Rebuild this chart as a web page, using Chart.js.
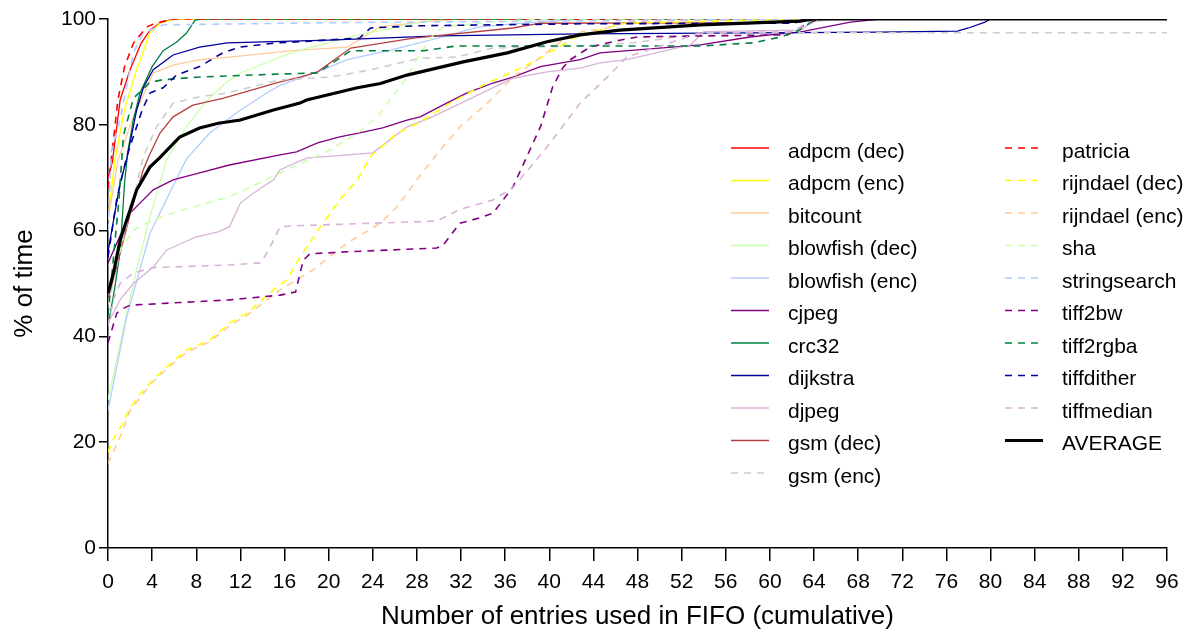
<!DOCTYPE html>
<html>
<head>
<meta charset="utf-8">
<script src="https://cdn.jsdelivr.net/npm/chart.js@4"></script>
<style>
  html, body { margin: 0; padding: 0; background: #fff; }
  #wrap { width: 1195px; height: 631px; }
</style>
</head>
<body>
<div id="wrap"><canvas id="myChart" width="1195" height="631"></canvas></div>
<script>
// x = entries used, y = % of time
let adpcmDec = [[0,70],[0.4,73],[1.1,84.7],[2,90.4],[3,95.4],[3.8,97.9],[4.9,99.5],[6,100],[96,100]];
let adpcmEnc = [[0,62],[0.6,73],[1.5,83],[2.6,90.4],[3.8,97.4],[4.7,99.2],[6,100],[96,100]];
let bitcount = [[0,62],[0.9,73.3],[2.3,81.5],[3.5,87],[4.1,89.8],[5.9,91.3],[8.3,92.3],[11,92.8],[15.6,93.8],[17.4,94.1],[21.7,94.7],[24.7,98.5],[29.2,99.6],[32,100],[96,100]];
let blowfishDec = [[0,28],[2.3,50],[3.8,62.6],[5.3,73.3],[7.1,79.6],[9,84.7],[11,88.5],[12,89.8],[15.6,92.8],[17.4,94.1],[22.8,97],[29.2,99.8],[31,100],[96,100]];
let blowfishEnc = [[0,26],[1.7,43.7],[3.8,59.5],[7.1,73.5],[9.2,78.4],[12,82.8],[14.4,86],[15.6,87.5],[17.4,88.8],[19,90],[21.7,92.3],[25.6,94.1],[29.2,96],[33.7,98.5],[39.8,99.6],[44,100],[96,100]];
let cjpeg = [[0,53.9],[2,63.3],[4.1,67.7],[5.9,69.6],[8.3,70.9],[11,72.4],[15.6,74.3],[17.1,74.9],[19,76.6],[21,77.7],[22.6,78.4],[24.9,79.4],[27.1,80.9],[28.3,81.5],[30.7,84.1],[32.5,86],[34.9,87.9],[36.7,89],[39.2,91],[42.8,92.3],[44.6,93.6],[53.7,95.1],[58.2,96.6],[60.9,97.2],[62.7,97.5],[67.3,99.4],[70,100],[96,100]];
let crc32 = [[0,42],[0.6,49],[1.1,56],[1.5,69],[1.8,75],[2.3,81],[2.9,86],[4,91],[5,94],[6.2,95.6],[7.1,97.3],[7.9,99.8],[8.5,100],[96,100]];
let dijkstra = [[0,56],[1.1,69],[1.7,73.5],[2.6,82.8],[3.2,87],[4.1,90.4],[5.9,93.2],[8.3,94.7],[10.8,95.5],[20,96],[30,96.8],[43,97.2],[70,97.5],[77,97.7],[78,98.3],[79.5,99.4],[80,100],[96,100]];
let djpeg = [[0,42.5],[1.1,46.9],[2.3,50],[4.1,53.1],[5.3,56.3],[6.8,57.7],[8,58.8],[9.9,59.7],[11,60.7],[12,65.2],[13.2,67.1],[15,69.6],[15.6,71.5],[18,73.7],[24,74.7],[27.1,79.6],[29.2,81.3],[31.3,83.4],[36.7,88.8],[39.8,90],[42.8,90.7],[44.6,91.7],[47,92.3],[48,92.8],[52.8,95.1],[54,97.6],[62.7,97.9],[64,99.5],[66,100],[96,100]];
let gsmDec = [[0,47],[1,55],[2,63],[3.2,71.5],[3.8,74.5],[4.7,78.4],[5.9,81.5],[7.7,83.7],[10.4,85],[15.6,88.1],[17.4,89],[19,90],[22,94.5],[27.7,96.4],[36.7,98.3],[39.2,99.2],[60,99.3],[64,100],[96,100]];
let gsmEnc = [[0,46],[1.1,56.3],[2.3,65.8],[3.2,74],[4.4,79.6],[5.9,84.1],[8.3,85.3],[10.8,86],[15.6,88.5],[20.1,89],[23.8,90.4],[28.3,92.6],[31.6,92.8],[34.9,94.5],[42.8,94.9],[47.6,95.5],[53,97],[56,97.4],[96,97.4]];
let patricia = [[0,68],[0.9,84.7],[1.5,91],[2.3,95.4],[3.5,98.5],[4.3,99.2],[6,100],[96,100]];
let rijndaelDec = [[0,18.1],[0.6,21],[1.4,23.8],[2,26.5],[2.9,29],[4.1,31.8],[5.3,34.2],[7.1,37.4],[9.2,39.3],[11,42.5],[12.6,44.4],[15,48.8],[16.2,50.7],[17.4,55],[18,56.9],[19.5,61.4],[21,65.8],[22.6,69.6],[23.8,74],[26.2,78.4],[28.3,80.5],[31,84.1],[34.4,87.9],[36.7,90],[39.2,92.6],[42.2,96.4],[45.5,98.5],[46.9,99.2],[55,99.6],[63,100],[96,100]];
let rijndaelEnc = [[0,16],[1.1,21],[2,26],[3.2,29.2],[4.1,31.5],[5.3,33.8],[7.1,37],[9.2,39],[11,42],[12.6,44],[15.6,48.8],[18.6,52.6],[21.7,57.7],[24.7,61.4],[26.2,64.5],[28,69.6],[30.1,75.2],[31.9,79.6],[34.4,84.1],[36.7,89],[38.9,92.3],[41.6,96.6],[43.4,97.9],[44.6,97.9],[47,99.5],[63,100],[96,100]];
let sha = [[0,48.8],[1.1,56.3],[2.3,60.1],[4.1,62],[6.8,63.9],[11,66.4],[12.9,68.2],[15.6,70.9],[20.1,75.2],[22.6,78.4],[24.4,81.5],[25.8,85.3],[27.1,89],[28.3,93.6],[29.5,97],[30.4,98.5],[35,99.5],[40,100],[96,100]];
let stringsearch = [[0,60],[0.3,75],[1.1,81],[2.3,93.6],[3.2,97.3],[5,98.9],[20,99.3],[40,99.6],[64,100],[96,100]];
let tiff2bw = [[0,38.8],[0.8,44.4],[1.3,45.2],[2,45.9],[11,46.9],[15.6,47.8],[17,48.4],[17.7,54.4],[18.3,55.6],[21.7,56],[29.8,56.7],[30.4,57.3],[31.9,61.4],[33.7,62.4],[34.9,63.3],[36.7,68.2],[39.2,79.6],[40.3,87.1],[41.2,90.7],[41.9,92.3],[43.7,94.7],[46.4,96],[48,96.6],[53.7,96.8],[61.6,97],[63.4,99.2],[64.5,100],[96,100]];
let tiff2rgba = [[0,44],[0.5,55],[1,66],[1.4,78],[2.3,85],[3.8,88],[4.9,88.5],[8,89],[15.6,89.6],[19,89.8],[22,94],[28.6,94],[31.6,94.9],[53.7,94.9],[58.5,95.5],[61,96.6],[62.7,97.9],[64,99.8],[65,100],[96,100]];
let tiffdither = [[0,55],[0.8,66],[1.7,74],[3.1,82.8],[3.8,86],[5,87],[6.2,89.4],[8.3,91],[10.4,93.6],[12,94.7],[15.3,95.5],[17.4,95.7],[22.8,96.4],[23.8,98.3],[27.7,98.7],[42.8,99.1],[62,99.2],[64,100],[96,100]];
let tiffmedian = [[0,42],[0.5,47],[1.1,50],[2.3,52],[4.1,53],[11,53.5],[13.8,53.9],[14.4,55.7],[15.6,60.7],[16.8,60.9],[29.8,61.8],[31.9,64],[34.9,65.8],[36.7,68.1],[39.8,75.8],[42.8,84.1],[45.5,89.5],[47,92.8],[53.7,97.4],[62.1,97.6],[64,100],[96,100]];
let average = [[0,48.2],[0.5,52],[1.1,58.2],[1.7,62],[2.6,67.7],[3.8,72],[4.7,73.8],[6.5,77.7],[8.3,79.4],[10,80.3],[12,80.9],[15,82.8],[17.4,84.1],[18,84.7],[22.6,87],[24.7,87.8],[27.1,89.4],[32.2,91.9],[36.2,93.6],[39.8,95.7],[42.8,97],[46.4,97.9],[53.7,98.9],[62.7,99.6],[64,100],[96,100]];

let names = ['adpcm (dec)', 'adpcm (enc)', 'bitcount', 'blowfish (dec)', 'blowfish (enc)', 'cjpeg', 'crc32', 'dijkstra', 'djpeg', 'gsm (dec)', 'gsm (enc)',
             'patricia', 'rijndael (dec)', 'rijndael (enc)', 'sha', 'stringsearch', 'tiff2bw', 'tiff2rgba', 'tiffdither', 'tiffmedian', 'AVERAGE'];
let series = [adpcmDec, adpcmEnc, bitcount, blowfishDec, blowfishEnc, cjpeg, crc32, dijkstra, djpeg, gsmDec, gsmEnc,
              patricia, rijndaelDec, rijndaelEnc, sha, stringsearch, tiff2bw, tiff2rgba, tiffdither, tiffmedian, average];
let colors = ['#FF0000', '#FFFF00', '#FFCC99', '#CCFFAA', '#B3CCFF', '#800080', '#008040', '#000099', '#D9B3D9', '#B84040', '#CCCCCC',
              '#FF0000', '#FFFF00', '#FFCC99', '#CCFFAA', '#B3CCFF', '#800080', '#008040', '#000099', '#D9B3D9', '#000000'];
let dashed = [false, false, false, false, false, false, false, false, false, false, true,
              true, true, true, true, true, true, true, true, true, false];

let font = "'Liberation Sans', Arial, sans-serif";

let datasets = series.map(function (s, i) {
	let avg = names[i] === 'AVERAGE';
	return {
		label: names[i],
		data: s.map(function (p) { return {x: p[0], y: p[1]}; }),
		borderColor: colors[i],
		backgroundColor: colors[i],
		borderWidth: avg ? 3.2 : (dashed[i] ? 1.6 : 1.3),
		borderDash: dashed[i] ? [7, 6] : [],
		pointRadius: 0,
		tension: 0,
		fill: false,
		order: series.length - i
	};
});

// two-column legend inside the plot
let legendBox = {
	id: 'legendBox',
	afterDraw: function (chart) {
		let ctx = chart.ctx;
		let perCol = 11;
		ctx.save();
		ctx.font = '21px ' + font;
		ctx.textBaseline = 'middle';
		ctx.fillStyle = '#000';
		chart.data.datasets.forEach(function (ds, i) {
			let col = i < perCol ? 0 : 1;
			let row = col === 0 ? i : i - perCol;
			let x0 = col === 0 ? 731 : 1005;
			let y = 148 + row * 32.5;
			ctx.beginPath();
			ctx.strokeStyle = ds.borderColor;
			ctx.lineWidth = ds.borderWidth;
			ctx.setLineDash(ds.borderDash);
			ctx.moveTo(x0, y);
			ctx.lineTo(x0 + 38, y);
			ctx.stroke();
			ctx.setLineDash([]);
			ctx.fillText(ds.label, x0 + 57, y + 4);
		});
		ctx.restore();
	}
};

let myChart = document.getElementById('myChart').getContext('2d');

let chart = new Chart(myChart, {
	type: 'line',
	data: { datasets: datasets },
	plugins: [legendBox],
	options: {
		responsive: false,
		animation: false,
		devicePixelRatio: 1,
		layout: { padding: { left: 0, right: 28, top: 19, bottom: 0 } },
		plugins: {
			legend: { display: false },
			tooltip: { enabled: false }
		},
		scales: {
			x: {
				type: 'linear',
				min: 0,
				max: 96,
				ticks: { stepSize: 4, color: '#000', font: { family: font, size: 21 }, padding: 9, maxRotation: 0, autoSkip: false },
				grid: { drawOnChartArea: false, drawTicks: true, tickLength: 13, color: '#000', lineWidth: 1.5 },
				border: { display: true, color: '#000', width: 1.5 },
				title: { display: true, text: 'Number of entries used in FIFO (cumulative)', color: '#000', font: { family: font, size: 26 }, padding: { top: 0, bottom: -1 } },
				afterFit: function (scale) { scale.height = 83; }
			},
			y: {
				min: 0,
				max: 100,
				ticks: { stepSize: 20, color: '#000', font: { family: font, size: 21 }, padding: 3 },
				grid: { drawOnChartArea: false, drawTicks: true, tickLength: 9, color: '#000', lineWidth: 1.5 },
				border: { display: true, color: '#000', width: 1.5 },
				title: { display: true, text: '% of time', color: '#000', font: { family: font, size: 26 }, padding: { top: 9, bottom: 0 } },
				afterFit: function (scale) { scale.width = 108; }
			}
		}
	}
});
</script>
</body>
</html>
